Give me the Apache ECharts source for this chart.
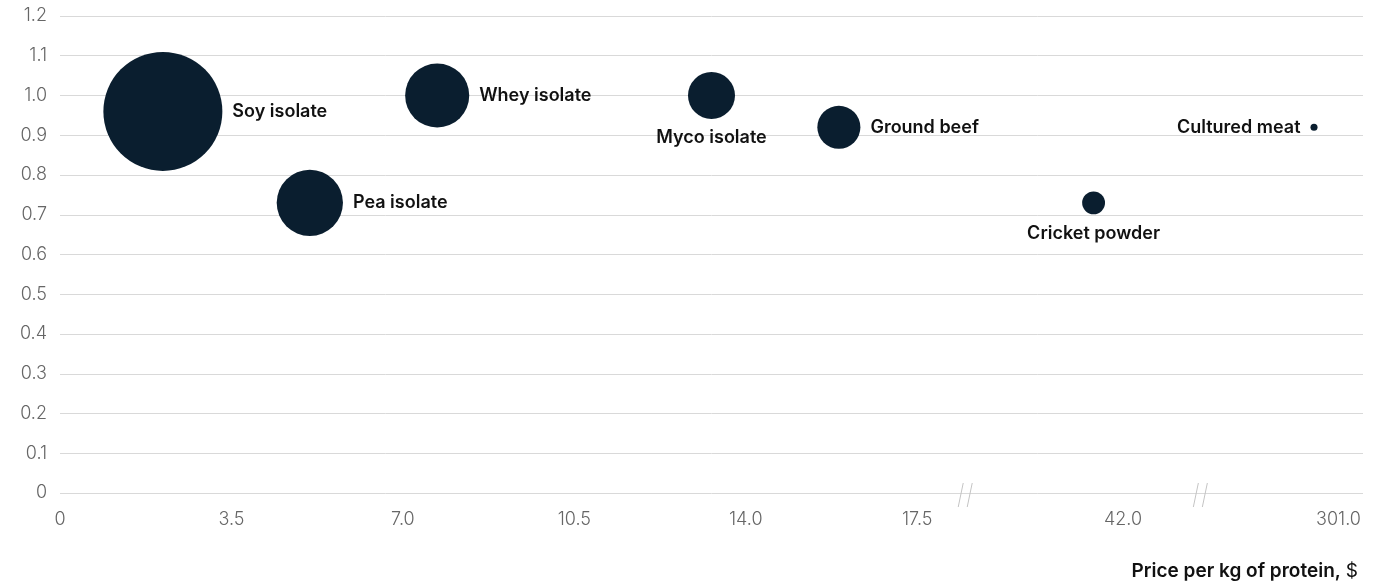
<!DOCTYPE html>
<html>
<head>
<meta charset="utf-8">
<script src="https://cdn.jsdelivr.net/npm/echarts@6/dist/echarts.min.js"></script>
<style>
  html, body { margin: 0; padding: 0; background: #fff; }
  #chart { width: 1374px; height: 588px; }
</style>
</head>
<body>
<div id="chart"></div>
<script>
// data
var products = ['Soy isolate', 'Pea isolate', 'Whey isolate', 'Myco isolate', 'Ground beef', 'Cricket powder', 'Cultured meat'];
var pricePerKg = [2.1, 5.1, 7.7, 13.3, 15.9, 41.4, 300.5];
var pdcaas = [0.96, 0.73, 1.0, 1.0, 0.92, 0.73, 0.92];
var volumeIndex = [100, 31, 29, 15.6, 13.1, 3.7, 0.35];
var xTicks = [0, 3.5, 7.0, 10.5, 14.0, 17.5, 42.0, 301.0];
var xBreaks = [[18.5, 38.8], [43.6, 298.2]];

var labelSide = {
  'Myco isolate': 'bottom',
  'Cricket powder': 'bottom',
  'Cultured meat': 'left'
};

var ink = '#0a1e2f';
var gridColor = '#d9d9d9';
var font = 'Inter, Roboto, sans-serif';

var chart = echarts.init(document.getElementById('chart'));

var points = products.map(function (name, i) {
  return {
    name: name,
    value: [pricePerKg[i], pdcaas[i], volumeIndex[i]],
    label: { position: labelSide[name] || 'right' }
  };
});

chart.setOption({
  animation: false,
  title: {
    right: 11,
    top: 557,
    text: '{b|Price per kg of protein,} {r|$}',
    textStyle: {
      rich: {
        b: { fontFamily: font, fontSize: 19, fontWeight: 600, color: '#111' },
        r: { fontFamily: font, fontSize: 19, fontWeight: 400, color: '#111' }
      }
    }
  },
  grid: { left: 60, right: 11, top: 16, bottom: 95 },
  xAxis: {
    type: 'value',
    min: 0,
    max: 301.5,
    breaks: xBreaks.map(function (b) { return { start: b[0], end: b[1], gap: 0 }; }),
    breakArea: { show: false },
    axisLine: { show: false },
    axisTick: { show: false },
    splitLine: { show: false },
    axisLabel: {
      customValues: xTicks,
      margin: 18,
      fontFamily: font,
      fontSize: 18,
      fontWeight: 300,
      color: '#666',
      formatter: function (v) { return v === 0 ? '0' : v.toFixed(1); }
    }
  },
  yAxis: {
    type: 'value',
    min: 0,
    max: 1.2,
    interval: 0.1,
    axisLine: { show: false },
    axisTick: { show: false },
    splitLine: { lineStyle: { color: gridColor, width: 1 } },
    axisLabel: {
      margin: 13,
      fontFamily: font,
      fontSize: 18,
      fontWeight: 300,
      color: '#666',
      formatter: function (v) { return v === 0 ? '0' : v.toFixed(1); }
    }
  },
  series: [{
    type: 'scatter',
    data: points,
    symbolSize: function (val) { return 11.9 * Math.sqrt(val[2]); },
    itemStyle: { color: ink, opacity: 1 },
    label: {
      show: true,
      formatter: '{b}',
      distance: 10,
      fontFamily: font,
      fontSize: 18,
      fontWeight: 600,
      color: '#111'
    }
  }]
});

// the "//" marks where the price axis is broken
var y0 = chart.convertToPixel({ yAxisIndex: 0 }, 0);
var marks = [];
xBreaks.forEach(function (b) {
  var x = chart.convertToPixel({ xAxisIndex: 0 }, b[0]);
  [-3, 6].forEach(function (dx) {
    marks.push({
      type: 'line',
      shape: { x1: x + dx - 5, y1: y0 + 14, x2: x + dx, y2: y0 - 10 },
      style: { stroke: '#c4c4c4', lineWidth: 1 },
      z: 10
    });
  });
});
chart.setOption({ graphic: marks });
</script>
</body>
</html>
